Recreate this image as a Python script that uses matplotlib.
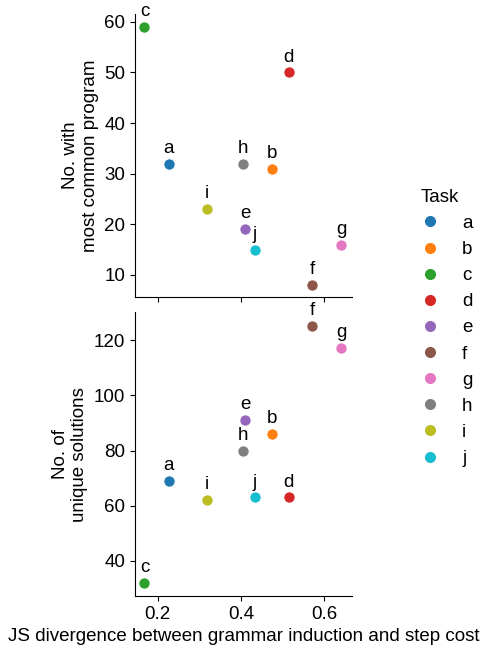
import matplotlib

matplotlib.use("Agg")
import matplotlib.pyplot as plt
from matplotlib.lines import Line2D

plt.rcParams["font.family"] = ["Liberation Sans", "DejaVu Sans"]
plt.rcParams["font.size"] = 13.5

TASKS = ["a", "b", "c", "d", "e", "f", "g", "h", "i", "j"]
JS_DIV = [0.227, 0.474, 0.168, 0.515, 0.411, 0.572, 0.642, 0.405, 0.318, 0.434]
MOST_COMMON = [32, 31, 59, 50, 19, 8, 16, 32, 23, 15]
UNIQUE_SOLS = [69, 86, 32, 63, 91, 125, 117, 80, 62, 63]
COLORS = [
    "#1f77b4", "#ff7f0e", "#2ca02c", "#d62728", "#9467bd",
    "#8c564b", "#e377c2", "#7f7f7f", "#bcbd22", "#17becf",
]


# Draws one labelled scatter panel.
def plotPanel(ax, xs, ys, ylabel):
    for task, x, y, color in zip(TASKS, xs, ys, COLORS):
        ax.scatter(x, y, s=65, color=color, edgecolor="white", linewidth=0.6, zorder=3)
        ax.annotate(
            task,
            (x, y),
            xytext=(0, 5),
            textcoords="offset points",
            ha="center",
            va="bottom",
        )
    ax.set_ylabel(ylabel)
    ax.spines["top"].set_visible(False)
    ax.spines["right"].set_visible(False)
    ax.set_xlim(0.145, 0.667)


fig = plt.figure(figsize=(4.8, 6.56), dpi=100)
topAx = fig.add_axes([0.281, 0.547, 0.452, 0.432])
botAx = fig.add_axes([0.281, 0.0915, 0.452, 0.4325], sharex=topAx)

plotPanel(topAx, JS_DIV, MOST_COMMON, "No. with\nmost common program")
plotPanel(botAx, JS_DIV, UNIQUE_SOLS, "No. of\nunique solutions")
topAx.set_ylim(5.6, 61.6)
topAx.set_yticks([10, 20, 30, 40, 50, 60])
botAx.set_ylim(27.3, 130.1)
botAx.set_yticks([40, 60, 80, 100, 120])
botAx.set_xticks([0.2, 0.4, 0.6])
topAx.tick_params(labelbottom=False)
botAx.set_xlabel("JS divergence between grammar induction and step cost")

handles = [
    Line2D([], [], marker="o", linestyle="", color=c, markersize=9, markeredgecolor="white")
    for c in COLORS
]
fig.legend(
    handles,
    TASKS,
    title="Task",
    loc="center right",
    bbox_to_anchor=(1.0, 0.5),
    borderaxespad=0,
    frameon=False,
    labelspacing=0.48,
    handlelength=1.0,
    handletextpad=1.2,
    alignment="left",
)

plt.savefig("out.png", dpi=100)
